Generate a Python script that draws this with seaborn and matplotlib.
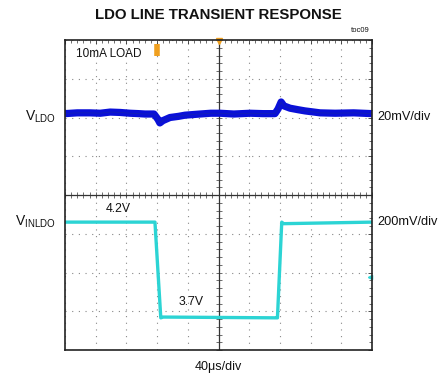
import matplotlib
matplotlib.use("Agg")
import matplotlib.pyplot as plt
import seaborn as sns
import numpy as np
import pandas as pd

# scope traces, in screen divisions (x: 0..10, y: 0..8 from bottom)
vldo_t = [0.0, 0.40, 0.81, 1.15, 1.47, 1.80, 2.12, 2.40, 2.61, 2.90, 3.03, 3.09,
          3.19, 3.42, 3.70, 3.91, 4.40, 4.75, 5.05, 5.50, 6.03, 6.45, 6.84, 6.94,
          7.04, 7.13, 7.33, 7.60, 7.82, 8.31, 8.80, 9.40, 10.0]
vldo_v = [6.10, 6.12, 6.12, 6.11, 6.14, 6.13, 6.11, 6.10, 6.09, 6.09, 5.95, 5.86,
          5.92, 6.00, 6.03, 6.06, 6.09, 6.11, 6.11, 6.09, 6.11, 6.10, 6.10, 6.22,
          6.40, 6.30, 6.24, 6.20, 6.17, 6.12, 6.11, 6.12, 6.10]

vin_t = [0.0, 2.93, 3.12, 3.20, 6.90, 6.92, 7.06, 7.12, 10.0]
vin_v = [3.30, 3.30, 0.83, 0.85, 0.83, 0.83, 3.30, 3.26, 3.30]

sns.set_style("white")
plt.rcParams['font.family'] = ['Liberation Sans', 'DejaVu Sans']
plt.rcParams['mathtext.fontset'] = 'custom'
plt.rcParams['mathtext.rm'] = 'Liberation Sans'

fig = plt.figure(figsize=(4.46, 3.77), dpi=100)
ax = fig.add_axes([65 / 446, 1 - 350 / 377, 307 / 446, 310 / 377])

df_ldo = pd.DataFrame({"t": vldo_t, "v": vldo_v})
df_in = pd.DataFrame({"t": vin_t, "v": vin_v})
sns.lineplot(data=df_ldo, x="t", y="v", ax=ax, color="#0a10d8", linewidth=5.2,
             sort=False, estimator=None, solid_capstyle="butt")
sns.lineplot(data=df_ldo, x="t", y="v", ax=ax, color="#1c2f90", linewidth=0.6,
             sort=False, estimator=None, alpha=0.5)
sns.lineplot(data=df_in, x="t", y="v", ax=ax, color="#2cd4d4", linewidth=2.4,
             sort=False, estimator=None, solid_capstyle="butt")

ax.set_xlim(0, 10)
ax.set_ylim(0, 8)
ax.set_xlabel("")
ax.set_ylabel("")
ax.set_xticks(np.arange(0, 11, 1))
ax.set_yticks(np.arange(0, 9, 1))
ax.set_xticks(np.arange(0, 10.01, 0.2), minor=True)
ax.set_yticks(np.arange(0, 8.01, 0.2), minor=True)
ax.tick_params(which="both", direction="in", top=True, right=True,
               labelbottom=False, labelleft=False, color="#333333")
ax.tick_params(which="major", length=3, width=0.6)
ax.tick_params(which="minor", length=2, width=0.5)
ax.grid(True, which="major", color="#888888", linestyle=(0, (1, 5)), linewidth=0.8)
for s in ax.spines.values():
    s.set_color("#222222")
    s.set_linewidth(1.2)

# centre cross with minor ticks
ax.axhline(4, color="#333333", linewidth=0.9, zorder=1)
ax.axvline(5, color="#333333", linewidth=0.9, zorder=1)
mt = np.arange(0, 10.01, 0.2)
ax.plot(mt, np.full_like(mt, 4), linestyle="none", marker="|", markersize=4,
        color="#333333", markeredgewidth=0.5, zorder=1)
mv = np.arange(0, 8.01, 0.2)
ax.plot(np.full_like(mv, 5), mv, linestyle="none", marker="_", markersize=4,
        color="#333333", markeredgewidth=0.5, zorder=1)

# trigger / channel markers
ax.plot([5], [7.97], marker="v", color="#f0a020", markersize=5, clip_on=False)
ax.plot([3.0], [7.74], marker="|", color="#f0a020", markersize=9,
        markeredgewidth=4, solid_capstyle="round")
ax.plot([9.93], [1.88], marker="<", color="#2cd4d4", markersize=3, clip_on=False)

txt = "#111111"
fig.text(218 / 446, 1 - 15 / 377, "LDO LINE TRANSIENT RESPONSE", ha="center",
         va="center", fontsize=10.8, fontweight="bold", color=txt)
fig.text(360 / 446, 1 - 30 / 377, "toc09", ha="center", va="center",
         fontsize=5.5, color=txt)
ax.text(0.36, 7.64, "10mA LOAD", ha="left", va="center", fontsize=8.5, color=txt)
ax.text(1.74, 3.64, "4.2V", ha="center", va="center", fontsize=8.8, color=txt)
ax.text(4.10, 1.24, "3.7V", ha="center", va="center", fontsize=8.8, color=txt)
fig.text(218 / 446, 1 - 367 / 377, "40\u03bcs/div", ha="center", va="center",
         fontsize=9, color=txt)
fig.text(56 / 446, 1 - 117 / 377, r"$\mathrm{V}_{\mathrm{LDO}}$", ha="right",
         va="center", fontsize=10, color=txt)
fig.text(56 / 446, 1 - 222 / 377, r"$\mathrm{V}_{\mathrm{INLDO}}$", ha="right",
         va="center", fontsize=10, color=txt)
fig.text(377 / 446, 1 - 117 / 377, "20mV/div", ha="left", va="center",
         fontsize=9.2, color=txt)
fig.text(377 / 446, 1 - 222 / 377, "200mV/div", ha="left", va="center",
         fontsize=9.2, color=txt)

fig.savefig("out.png", dpi=100)
